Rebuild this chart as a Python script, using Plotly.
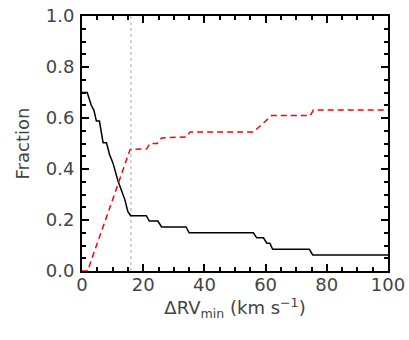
import plotly.graph_objects as go

# Solid black curve (decreasing fraction)
black_x = [0, 1.7, 3.0, 3.9, 4.7, 5.7, 6.9, 8.0, 9.0, 10.1, 11.8, 12.9, 14.0, 15.0, 15.9,
           21.0, 22.0, 24.8, 26.0, 34.0, 35.0, 56.0, 57.1, 59.3, 60.4, 61.4, 62.3, 74.3, 75.4, 100]
black_y = [0.70, 0.70, 0.651, 0.63, 0.588, 0.588, 0.503, 0.503, 0.457, 0.424, 0.352, 0.319, 0.28, 0.233, 0.217,
           0.217, 0.196, 0.196, 0.173, 0.173, 0.150, 0.150, 0.130, 0.130, 0.109, 0.109, 0.085, 0.085, 0.063, 0.063]

# Dashed red curve (increasing fraction)
red_x = [0, 2.0, 2.5, 4.7, 6.9, 9.6, 11.8, 14.0, 15.7, 21.1, 22.2, 24.6, 26.0, 34.2, 35.3, 56.0, 62.0, 74.6, 75.6, 100]
red_y = [0, 0, 0.024, 0.096, 0.174, 0.266, 0.345, 0.424, 0.476, 0.479, 0.50, 0.50, 0.522, 0.526, 0.545, 0.545,
         0.61, 0.61, 0.631, 0.631]

vline_x = 16

x_ticks = [0, 20, 40, 60, 80, 100]
y_ticks = [0.0, 0.2, 0.4, 0.6, 0.8, 1.0]
y_tick_text = ["0.0", "0.2", "0.4", "0.6", "0.8", "1.0"]

fig = go.Figure()
fig.add_trace(go.Scatter(x=[vline_x, vline_x], y=[0, 1], mode="lines",
                         line=dict(color="#aaaaaa", width=1, dash="dot"), hoverinfo="skip"))
fig.add_trace(go.Scatter(x=black_x, y=black_y, mode="lines",
                         line=dict(color="black", width=1.5)))
fig.add_trace(go.Scatter(x=red_x, y=red_y, mode="lines",
                         line=dict(color="red", width=1.5, dash="6px,4px")))

font = dict(family="DejaVu Sans", size=18, color="#444444")
axis_common = dict(showline=True, linecolor="black", linewidth=2, mirror="ticks",
                   ticks="inside", ticklen=7, tickwidth=1.5, tickcolor="black",
                   showgrid=False, zeroline=False, tickfont=font, automargin=False,
                   ticklabeloverflow="allow")

fig.update_xaxes(range=[0, 100], tickvals=x_ticks, ticktext=[str(v) for v in x_ticks],
                 ticklabelstandoff=-4,
                 minor=dict(dtick=5, tick0=0, ticks="inside", ticklen=4, tickcolor="black", tickwidth=1.5),
                 title=dict(text="ΔRV<sub>min</sub> (km s<sup>−1</sup>)", font=font, standoff=8),
                 **axis_common)
fig.update_yaxes(range=[0, 1], tickvals=y_ticks, ticktext=y_tick_text,
                 ticklabelstandoff=2,
                 minor=dict(dtick=0.05, tick0=0, ticks="inside", ticklen=4, tickcolor="black", tickwidth=1.5),
                 title=dict(text="Fraction", font=font, standoff=11),
                 **axis_common)

fig.update_layout(width=409, height=340, margin=dict(l=82, r=21, t=16, b=69),
                  plot_bgcolor="white", paper_bgcolor="white", showlegend=False)

fig.write_html("out.html", config={"displayModeBar": False},
               post_script="document.body.style.margin='0px';")
